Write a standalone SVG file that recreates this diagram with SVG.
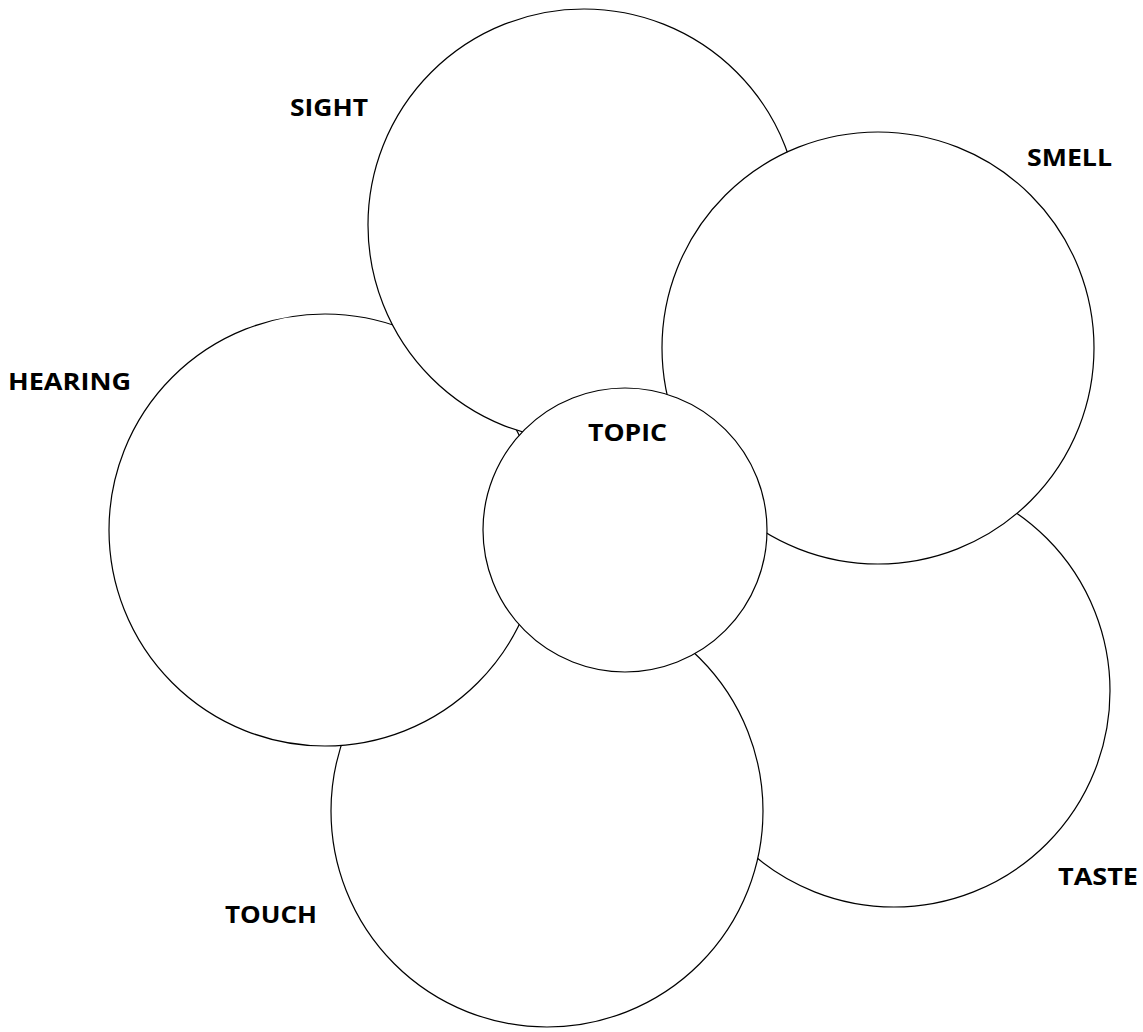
<svg xmlns="http://www.w3.org/2000/svg" width="1143" height="1032" viewBox="0 0 1143 1032">
<style>
.c{fill:#fff;stroke:#000;stroke-width:1.2}
.t{font-family:"Open Sans","Noto Sans","Liberation Sans",sans-serif;font-weight:700;font-size:24px;fill:#000}
</style>
<rect width="1143" height="1032" fill="#fff"/>
<g id="taste"><circle class="c" cx="894" cy="691" r="216"/><text class="t" x="1058" y="885" textLength="80" lengthAdjust="spacingAndGlyphs">TASTE</text></g>
<g id="touch"><circle class="c" cx="547" cy="811" r="216"/><text class="t" x="225" y="923" textLength="92" lengthAdjust="spacingAndGlyphs">TOUCH</text></g>
<g id="hearing"><circle class="c" cx="325" cy="530" r="216"/><text class="t" x="8" y="390" textLength="123" lengthAdjust="spacingAndGlyphs">HEARING</text></g>
<g id="sight"><circle class="c" cx="584" cy="225" r="216"/><text class="t" x="290" y="116" textLength="78" lengthAdjust="spacingAndGlyphs">SIGHT</text></g>
<g id="smell"><circle class="c" cx="878" cy="348" r="216"/><text class="t" x="1027" y="166" textLength="85" lengthAdjust="spacingAndGlyphs">SMELL</text></g>
<g id="topic"><circle class="c" cx="625" cy="530" r="142"/><text class="t" x="588" y="441" textLength="79" lengthAdjust="spacingAndGlyphs">TOPIC</text></g>
<g id="connectors"></g>
</svg>
